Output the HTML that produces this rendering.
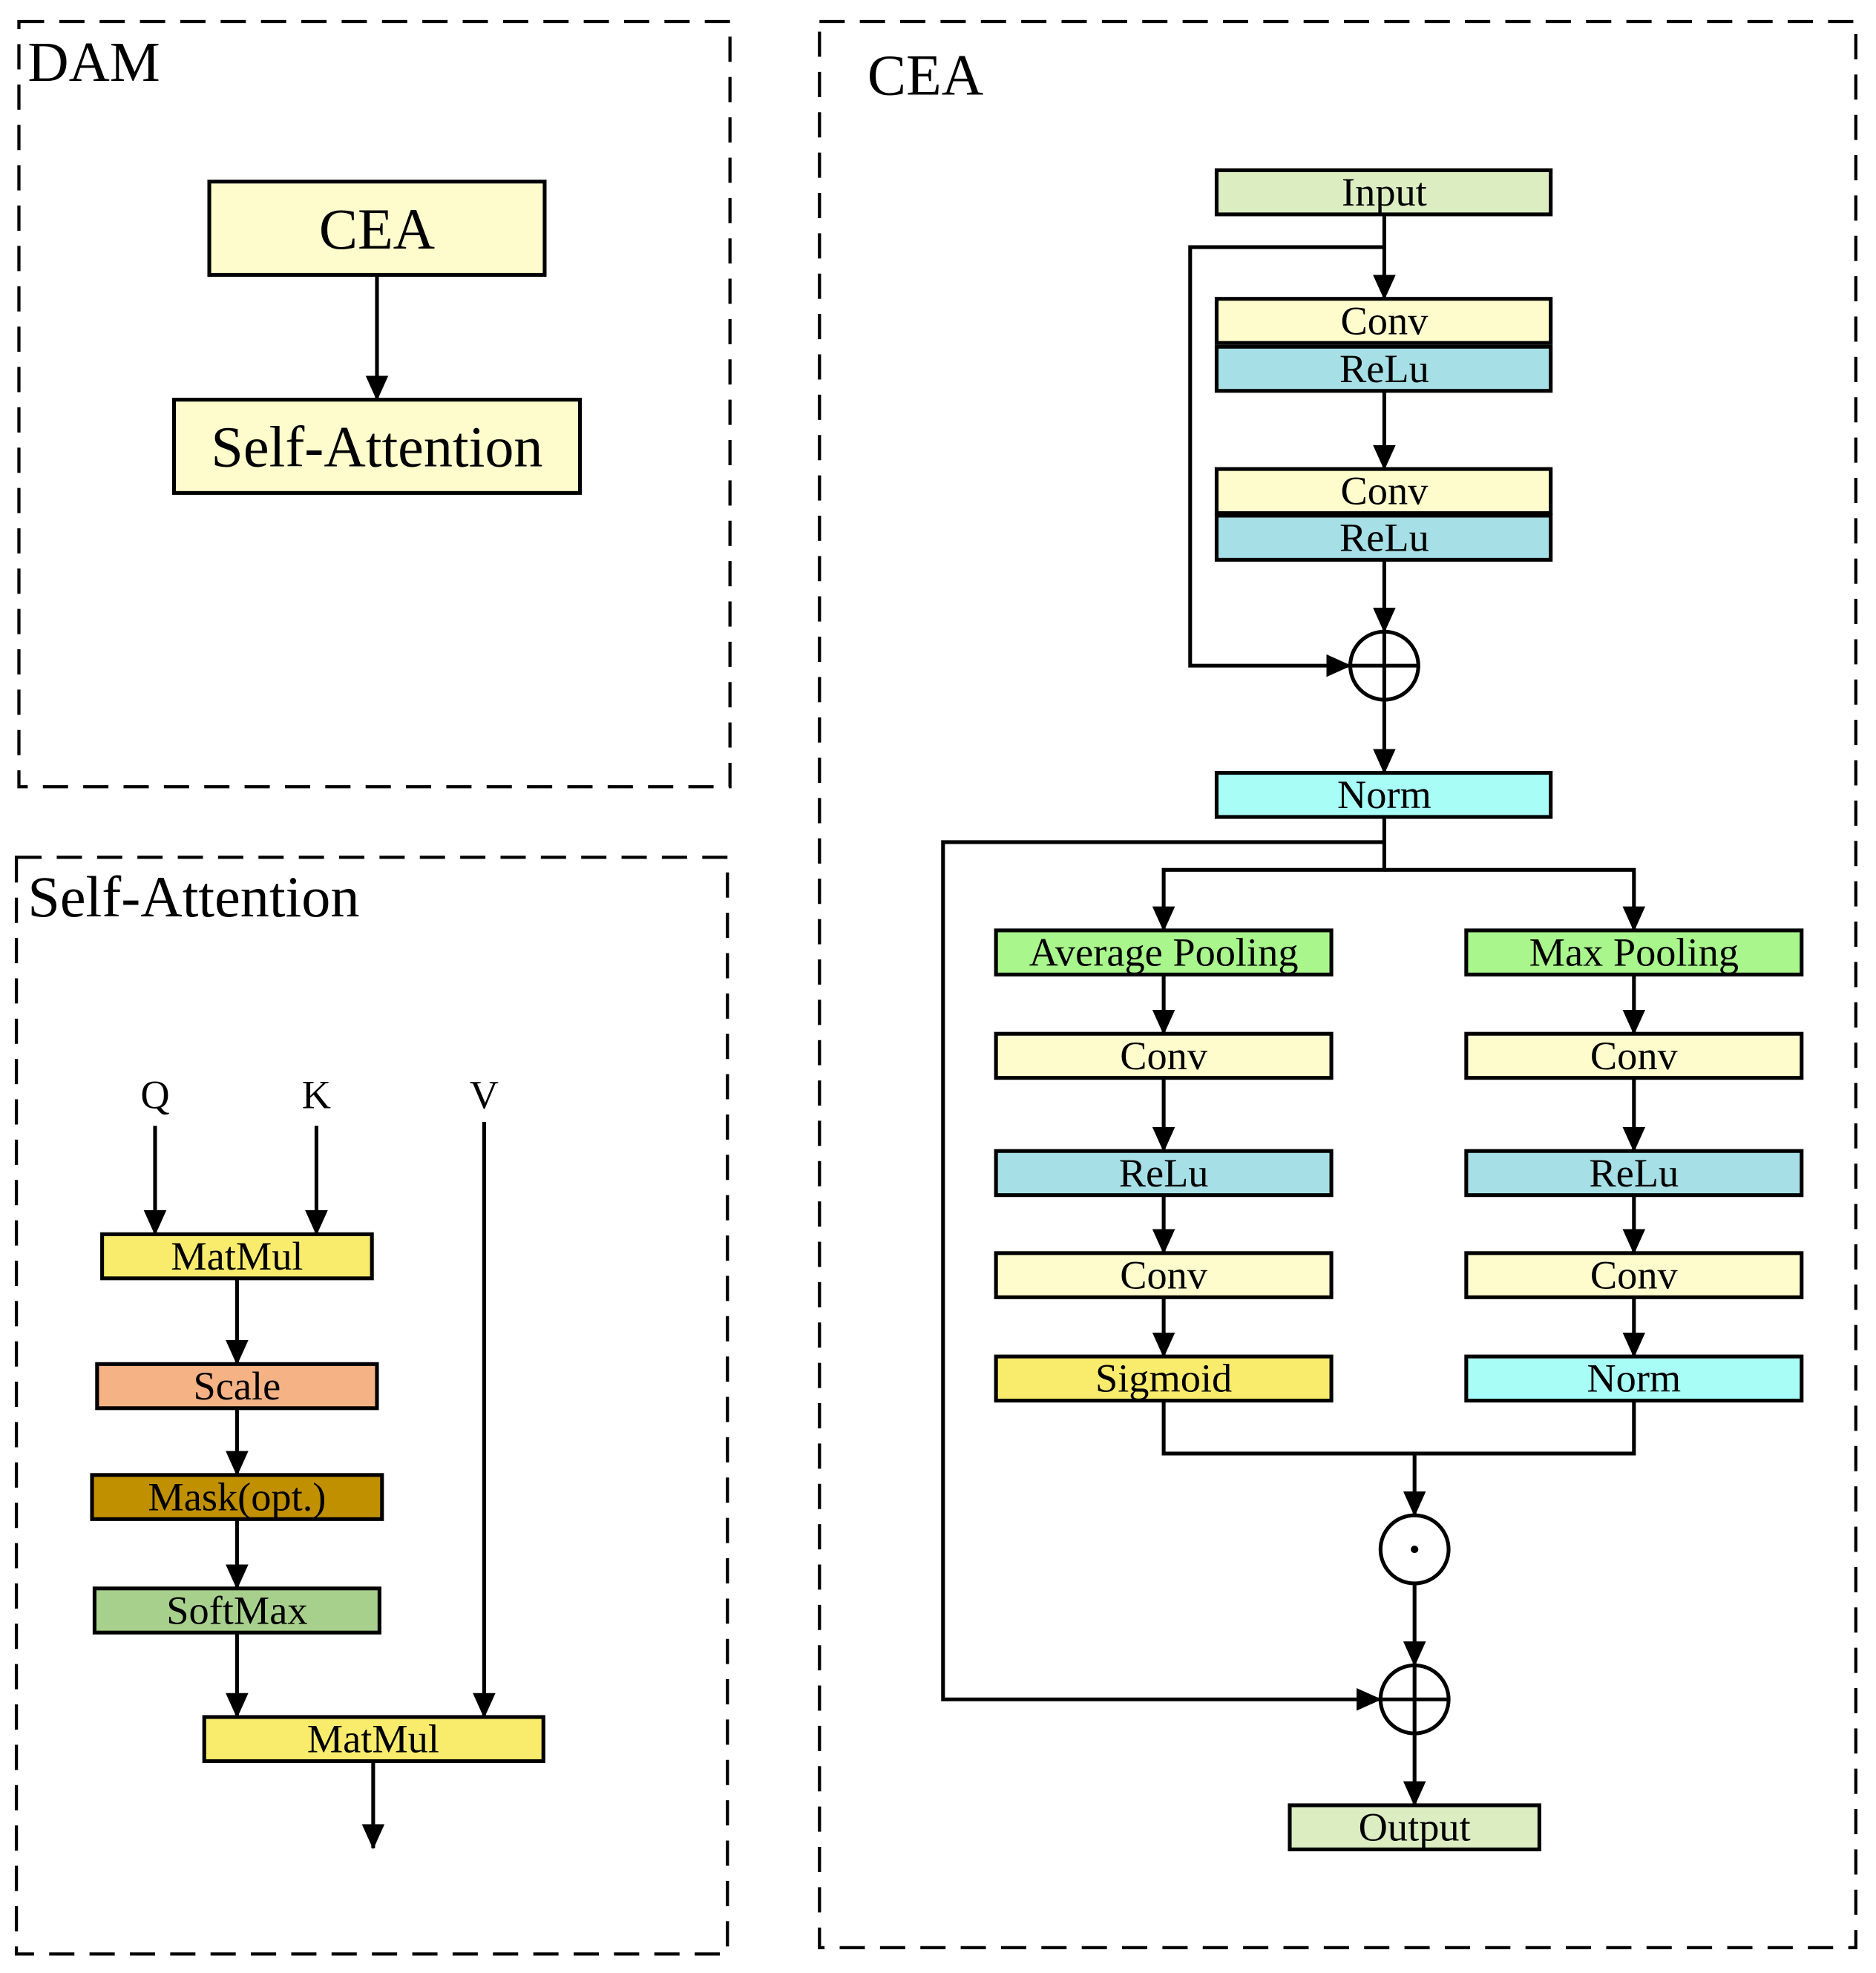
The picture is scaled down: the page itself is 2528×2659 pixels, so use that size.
<!DOCTYPE html>
<html><head><style>html,body{margin:0;padding:0;background:#fff}svg{display:block}</style></head><body>
<svg width="2528" height="2659" viewBox="0 0 1488 1565" xmlns="http://www.w3.org/2000/svg" font-family="'Liberation Serif', serif">
<defs>
<marker id="b" markerWidth="20" markerHeight="20" refX="19" refY="10" orient="auto" markerUnits="userSpaceOnUse" viewBox="0 0 20 20"><path d="M0,1L20,10L0,19z" fill="#000"/></marker></defs>
<g fill="none" stroke="#000" stroke-width="2.5" stroke-dasharray="20,12">
<rect x="15" y="17" width="564" height="607"/>
<rect x="13" y="680" width="564" height="870"/>
<rect x="650" y="17" width="822" height="1528"/>
</g>
<g fill="#000" font-size="45"><text x="22" y="64">DAM</text><text x="22" y="727" font-size="46">Self-Attention</text><text x="688" y="75" font-size="46">CEA</text></g>
<g stroke="#000" stroke-width="3" fill="none" marker-end="url(#b)">
<line x1="299" y1="218" x2="299" y2="317"/>
<line x1="1098" y1="170" x2="1098" y2="237"/>
<line x1="1098" y1="310" x2="1098" y2="372"/>
<line x1="1098" y1="444" x2="1098" y2="501"/>
<polyline points="1098,196 944,196 944,528 1071,528"/>
<line x1="1098" y1="555" x2="1098" y2="613"/>
<polyline points="1098,648 1098,690 923,690 923,738"/>
<polyline points="1098,690 1296,690 1296,738"/>
<polyline points="1098,668 748,668 748,1348 1095,1348"/>
<line x1="923" y1="773" x2="923" y2="820"/><line x1="923" y1="855" x2="923" y2="913"/><line x1="923" y1="948" x2="923" y2="994"/><line x1="923" y1="1029" x2="923" y2="1076"/>
<line x1="1296" y1="773" x2="1296" y2="820"/><line x1="1296" y1="855" x2="1296" y2="913"/><line x1="1296" y1="948" x2="1296" y2="994"/><line x1="1296" y1="1029" x2="1296" y2="1076"/>
<polyline points="923,1111 923,1153 1296,1153 1296,1111" marker-end="none"/>
<line x1="1122" y1="1153" x2="1122" y2="1202"/>
<line x1="1122" y1="1256" x2="1122" y2="1321"/>
<line x1="1122" y1="1375" x2="1122" y2="1432"/>
<line x1="123" y1="893" x2="123" y2="979"/><line x1="251" y1="893" x2="251" y2="979"/><line x1="384" y1="890" x2="384" y2="1362"/>
<line x1="188" y1="1014" x2="188" y2="1082"/><line x1="188" y1="1117" x2="188" y2="1170"/><line x1="188" y1="1205" x2="188" y2="1260"/><line x1="188" y1="1295" x2="188" y2="1362"/>
<line x1="296" y1="1397" x2="296" y2="1466"/>
</g>
<g stroke="#000" stroke-width="3">
<rect x="166" y="144" width="266" height="74" fill="#fefbcc"/>
<rect x="138" y="317" width="322" height="74" fill="#fefbcc"/>
<rect x="965" y="135" width="265" height="35" fill="#dcedc2"/>
<rect x="965" y="237" width="265" height="35" fill="#fefbcc"/>
<rect x="965" y="275" width="265" height="35" fill="#a6dfe6"/>
<rect x="965" y="372" width="265" height="35" fill="#fefbcc"/>
<rect x="965" y="409" width="265" height="35" fill="#a6dfe6"/>
<rect x="965" y="613" width="265" height="35" fill="#a8fdf7"/>
<rect x="790" y="738" width="266" height="35" fill="#a9f68c"/>
<rect x="790" y="820" width="266" height="35" fill="#fefbcc"/>
<rect x="790" y="913" width="266" height="35" fill="#a6dfe6"/>
<rect x="790" y="994" width="266" height="35" fill="#fefbcc"/>
<rect x="790" y="1076" width="266" height="35" fill="#f9ec6c"/>
<rect x="1163" y="738" width="266" height="35" fill="#a9f68c"/>
<rect x="1163" y="820" width="266" height="35" fill="#fefbcc"/>
<rect x="1163" y="913" width="266" height="35" fill="#a6dfe6"/>
<rect x="1163" y="994" width="266" height="35" fill="#fefbcc"/>
<rect x="1163" y="1076" width="266" height="35" fill="#a8fdf7"/>
<rect x="1023" y="1432" width="198" height="35" fill="#dcedc2"/>
<rect x="81" y="979" width="214" height="35" fill="#f9ec6c"/>
<rect x="77" y="1082" width="222" height="35" fill="#f4b285"/>
<rect x="73" y="1170" width="230" height="35" fill="#c09000"/>
<rect x="75" y="1260" width="226" height="35" fill="#a8d08d"/>
<rect x="162" y="1362" width="269" height="35" fill="#f9ec6c"/>
<circle cx="1098" cy="528" r="27" fill="#fff"/><line x1="1071" y1="528" x2="1125" y2="528"/><line x1="1098" y1="501" x2="1098" y2="555"/>
<circle cx="1122" cy="1229" r="27" fill="#fff"/>
<circle cx="1122" cy="1348" r="27" fill="#fff"/><line x1="1095" y1="1348" x2="1149" y2="1348"/><line x1="1122" y1="1321" x2="1122" y2="1375"/>
</g>
<circle cx="1122" cy="1229" r="3" fill="#000"/>
<g fill="#000" font-size="32" text-anchor="middle">
<text x="299" y="197" font-size="46">CEA</text>
<text x="299" y="370" font-size="46">Self-Attention</text>
<text x="1098" y="163">Input</text>
<text x="1098" y="265">Conv</text><text x="1098" y="303">ReLu</text>
<text x="1098" y="400">Conv</text><text x="1098" y="437">ReLu</text>
<text x="1098" y="641">Norm</text>
<text x="923" y="766">Average Pooling</text><text x="923" y="848">Conv</text><text x="923" y="941">ReLu</text><text x="923" y="1022">Conv</text><text x="923" y="1104">Sigmoid</text>
<text x="1296" y="766">Max Pooling</text><text x="1296" y="848">Conv</text><text x="1296" y="941">ReLu</text><text x="1296" y="1022">Conv</text><text x="1296" y="1104">Norm</text>
<text x="1122" y="1460">Output</text>
<text x="123" y="879">Q</text><text x="251" y="879">K</text><text x="384" y="879">V</text>
<text x="188" y="1007">MatMul</text><text x="188" y="1110">Scale</text><text x="188" y="1198">Mask(opt.)</text><text x="188" y="1288">SoftMax</text><text x="296" y="1390">MatMul</text>
</g>
</svg>
</body></html>
